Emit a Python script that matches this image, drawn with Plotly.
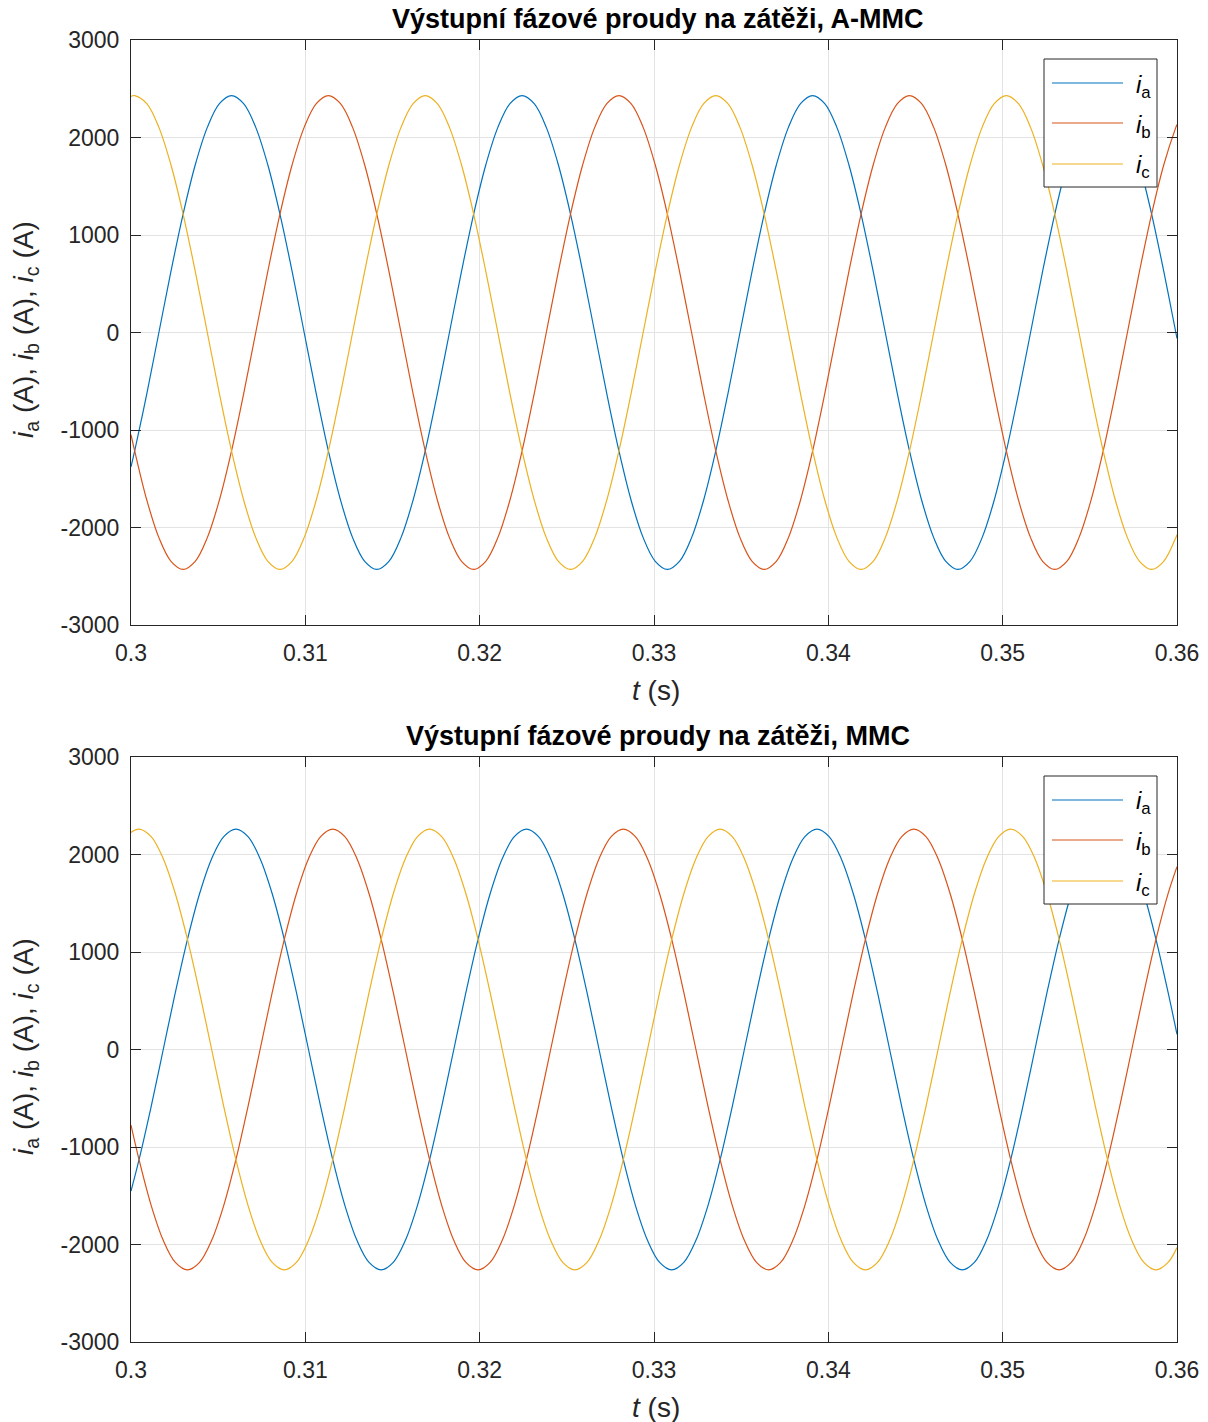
import plotly.graph_objects as go

# ---------------- data ----------------
# Top plot: A-MMC
t_top = [0.300000,
    0.300211, 0.300906,
    0.301600, 0.302294, 0.302989, 0.303683, 0.304378, 0.305072, 0.305767, 0.306461,
    0.307156, 0.307850, 0.308544, 0.309239, 0.309933, 0.310628, 0.311322, 0.312017,
    0.312711, 0.313406, 0.314100, 0.314794, 0.315489, 0.316183, 0.316878, 0.317572,
    0.318267, 0.318961, 0.319656, 0.320350, 0.321044, 0.321739, 0.322433, 0.323128,
    0.323822, 0.324517, 0.325211, 0.325906, 0.326600, 0.327294, 0.327989, 0.328683,
    0.329378, 0.330072, 0.330767, 0.331461, 0.332156, 0.332850, 0.333544, 0.334239,
    0.334933, 0.335628, 0.336322, 0.337017, 0.337711, 0.338406, 0.339100, 0.339794,
    0.340489, 0.341183, 0.341878, 0.342572, 0.343267, 0.343961, 0.344656, 0.345350,
    0.346044, 0.346739, 0.347433, 0.348128, 0.348822, 0.349517, 0.350211, 0.350906,
    0.351600, 0.352294, 0.352989, 0.353683, 0.354378, 0.355072, 0.355767, 0.356461,
    0.357156, 0.357850, 0.358544, 0.359239, 0.359933,
    0.360000]

ia_top = [-1378,
    -1215, -629,
    0, 629, 1215, 1718, 2104, 2347, 2430, 2347, 2104, 1718, 1215, 629,
    0, -629, -1215, -1718, -2104, -2347, -2430, -2347, -2104, -1718, -1215, -629,
    0, 629, 1215, 1718, 2104, 2347, 2430, 2347, 2104, 1718, 1215, 629,
    0, -629, -1215, -1718, -2104, -2347, -2430, -2347, -2104, -1718, -1215, -629,
    0, 629, 1215, 1718, 2104, 2347, 2430, 2347, 2104, 1718, 1215, 629,
    0, -629, -1215, -1718, -2104, -2347, -2430, -2347, -2104, -1718, -1215, -629,
    0, 629, 1215, 1718, 2104, 2347, 2430, 2347, 2104, 1718, 1215, 629, 0,
    -61]

ib_top = [-1048,
    -1215, -1718,
    -2104, -2347, -2430, -2347, -2104, -1718, -1215, -629, 0, 629, 1215, 1718,
    2104, 2347, 2430, 2347, 2104, 1718, 1215, 629, 0, -629, -1215, -1718,
    -2104, -2347, -2430, -2347, -2104, -1718, -1215, -629, 0, 629, 1215, 1718,
    2104, 2347, 2430, 2347, 2104, 1718, 1215, 629, 0, -629, -1215, -1718,
    -2104, -2347, -2430, -2347, -2104, -1718, -1215, -629, 0, 629, 1215, 1718,
    2104, 2347, 2430, 2347, 2104, 1718, 1215, 629, 0, -629, -1215, -1718,
    -2104, -2347, -2430, -2347, -2104, -1718, -1215, -629, 0, 629, 1215, 1718, 2104,
    2134]

ic_top = [2422,
    2430, 2347,
    2104, 1718, 1215, 629, 0, -629, -1215, -1718, -2104, -2347, -2430, -2347,
    -2104, -1718, -1215, -629, 0, 629, 1215, 1718, 2104, 2347, 2430, 2347,
    2104, 1718, 1215, 629, 0, -629, -1215, -1718, -2104, -2347, -2430, -2347,
    -2104, -1718, -1215, -629, 0, 629, 1215, 1718, 2104, 2347, 2430, 2347,
    2104, 1718, 1215, 629, 0, -629, -1215, -1718, -2104, -2347, -2430, -2347,
    -2104, -1718, -1215, -629, 0, 629, 1215, 1718, 2104, 2347, 2430, 2347,
    2104, 1718, 1215, 629, 0, -629, -1215, -1718, -2104, -2347, -2430, -2347, -2104,
    -2073]

# Bottom plot: MMC
t_bot = [0.300000,
    0.300461, 0.301156,
    0.301850, 0.302544, 0.303239, 0.303933, 0.304628, 0.305322, 0.306017, 0.306711,
    0.307406, 0.308100, 0.308794, 0.309489, 0.310183, 0.310878, 0.311572, 0.312267,
    0.312961, 0.313656, 0.314350, 0.315044, 0.315739, 0.316433, 0.317128, 0.317822,
    0.318517, 0.319211, 0.319906, 0.320600, 0.321294, 0.321989, 0.322683, 0.323378,
    0.324072, 0.324767, 0.325461, 0.326156, 0.326850, 0.327544, 0.328239, 0.328933,
    0.329628, 0.330322, 0.331017, 0.331711, 0.332406, 0.333100, 0.333794, 0.334489,
    0.335183, 0.335878, 0.336572, 0.337267, 0.337961, 0.338656, 0.339350, 0.340044,
    0.340739, 0.341433, 0.342128, 0.342822, 0.343517, 0.344211, 0.344906, 0.345600,
    0.346294, 0.346989, 0.347683, 0.348378, 0.349072, 0.349767, 0.350461, 0.351156,
    0.351850, 0.352544, 0.353239, 0.353933, 0.354628, 0.355322, 0.356017, 0.356711,
    0.357406, 0.358100, 0.358794, 0.359489,
    0.360000]

ia_bot = [-1452,
    -1130, -585,
    0, 585, 1130, 1598, 1957, 2183, 2260, 2183, 1957, 1598, 1130, 585,
    0, -585, -1130, -1598, -1957, -2183, -2260, -2183, -1957, -1598, -1130, -585,
    0, 585, 1130, 1598, 1957, 2183, 2260, 2183, 1957, 1598, 1130, 585,
    0, -585, -1130, -1598, -1957, -2183, -2260, -2183, -1957, -1598, -1130, -585,
    0, 585, 1130, 1598, 1957, 2183, 2260, 2183, 1957, 1598, 1130, 585,
    0, -585, -1130, -1598, -1957, -2183, -2260, -2183, -1957, -1598, -1130, -585,
    0, 585, 1130, 1598, 1957, 2183, 2260, 2183, 1957, 1598, 1130, 585,
    156]

ib_bot = [-775,
    -1130, -1598,
    -1957, -2183, -2260, -2183, -1957, -1598, -1130, -585, 0, 585, 1130, 1598,
    1957, 2183, 2260, 2183, 1957, 1598, 1130, 585, 0, -585, -1130, -1598,
    -1957, -2183, -2260, -2183, -1957, -1598, -1130, -585, 0, 585, 1130, 1598,
    1957, 2183, 2260, 2183, 1957, 1598, 1130, 585, 0, -585, -1130, -1598,
    -1957, -2183, -2260, -2183, -1957, -1598, -1130, -585, 0, 585, 1130, 1598,
    1957, 2183, 2260, 2183, 1957, 1598, 1130, 585, 0, -585, -1130, -1598,
    -1957, -2183, -2260, -2183, -1957, -1598, -1130, -585, 0, 585, 1130, 1598,
    1874]

ic_bot = [2226,
    2260, 2183,
    1957, 1598, 1130, 585, 0, -585, -1130, -1598, -1957, -2183, -2260, -2183,
    -1957, -1598, -1130, -585, 0, 585, 1130, 1598, 1957, 2183, 2260, 2183,
    1957, 1598, 1130, 585, 0, -585, -1130, -1598, -1957, -2183, -2260, -2183,
    -1957, -1598, -1130, -585, 0, 585, 1130, 1598, 1957, 2183, 2260, 2183,
    1957, 1598, 1130, 585, 0, -585, -1130, -1598, -1957, -2183, -2260, -2183,
    -1957, -1598, -1130, -585, 0, 585, 1130, 1598, 1957, 2183, 2260, 2183,
    1957, 1598, 1130, 585, 0, -585, -1130, -1598, -1957, -2183, -2260, -2183,
    -2031]

x_ticks = [0.30, 0.31, 0.32, 0.33, 0.34, 0.35, 0.36]
x_ticklabels = ["0.3", "0.31", "0.32", "0.33", "0.34", "0.35", "0.36"]
y_ticks = [-3000, -2000, -1000, 0, 1000, 2000, 3000]
y_ticklabels = ["-3000", "-2000", "-1000", "0", "1000", "2000", "3000"]

titles = ["Výstupní fázové proudy na zátěži, A-MMC", "Výstupní fázové proudy na zátěži, MMC"]
series_names = ["<i>i</i><sub>a</sub>", "<i>i</i><sub>b</sub>", "<i>i</i><sub>c</sub>"]
colors = ["#0072BD", "#D95319", "#EDB120"]

# ---------------- layout helpers ----------------
W, H = 1208, 1422
FONT = "Liberation Sans, Arial, Helvetica, sans-serif"
AX = "#262626"

def px_x(p):
    return p / W

def px_y(p):
    return 1 - p / H

x_dom = [px_x(131), px_x(1177)]
y_doms = [[px_y(625), px_y(40)], [px_y(1342), px_y(757)]]
offsets = [0, 717]

fig = go.Figure()

data_sets = [
    (t_top, [ia_top, ib_top, ic_top]),
    (t_bot, [ia_bot, ib_bot, ic_bot]),
]

for i, (tt, ys) in enumerate(data_sets):
    xa = "x" if i == 0 else "x2"
    ya = "y" if i == 0 else "y2"
    for yv, c, nm in zip(ys, colors, series_names):
        fig.add_trace(go.Scatter(
            x=tt, y=yv, mode="lines", name=nm,
            line=dict(color=c, width=1.2, shape="spline", smoothing=1.0),
            xaxis=xa, yaxis=ya, showlegend=False, hoverinfo="skip"))

axis_common = dict(
    automargin=False,
    showline=True, linecolor=AX, linewidth=1, mirror="ticks",
    ticks="inside", ticklen=10, tickwidth=1, tickcolor=AX,
    showgrid=True, gridcolor="#e3e3e3", gridwidth=1, zeroline=False,
    tickfont=dict(family=FONT, size=23, color=AX),
)

layout = dict(
    template="none",
    width=W, height=H, autosize=False,
    margin=dict(l=0, r=0, t=0, b=0, pad=0, autoexpand=False),
    paper_bgcolor="white", plot_bgcolor="white",
    font=dict(family=FONT, color=AX),
    showlegend=False,
)
for i in range(2):
    sx = "" if i == 0 else "2"
    layout["xaxis" + sx] = dict(axis_common, domain=x_dom, range=[0.3, 0.36],
                               anchor="y" + sx, tickmode="array",
                               tickvals=x_ticks, ticktext=x_ticklabels,
                               ticklabelstandoff=7)
    layout["yaxis" + sx] = dict(axis_common, domain=y_doms[i], range=[-3000, 3000],
                               anchor="x" + sx, tickmode="array",
                               tickvals=y_ticks, ticktext=y_ticklabels,
                               ticklabelstandoff=6)
fig.update_layout(**layout)

annotations = []
shapes = []
for i in range(2):
    off = offsets[i]
    # title
    annotations.append(dict(
        x=px_x(658), y=px_y(19 + off), xref="paper", yref="paper",
        text="<b>" + titles[i] + "</b>", showarrow=False,
        xanchor="center", yanchor="middle",
        font=dict(family=FONT, size=27, color="black")))
    # x axis title
    annotations.append(dict(
        x=px_x(656), y=px_y(690 + off), xref="paper", yref="paper",
        text="<i>t</i> (s)", showarrow=False, xanchor="center", yanchor="middle",
        font=dict(family=FONT, size=28, color=AX)))
    # y axis title
    annotations.append(dict(
        x=px_x(25), y=px_y(330 + off), xref="paper", yref="paper",
        text="<i>i</i><sub>a</sub> (A), <i>i</i><sub>b</sub> (A), <i>i</i><sub>c</sub> (A)",
        showarrow=False, xanchor="center", yanchor="middle", textangle=-90,
        font=dict(family=FONT, size=28, color=AX)))
    # legend box
    shapes.append(dict(type="rect", xref="paper", yref="paper",
                       x0=px_x(1044), x1=px_x(1157), y0=px_y(187 + off), y1=px_y(59 + off),
                       line=dict(color=AX, width=1), fillcolor="white", layer="above"))
    for j, (c, nm) in enumerate(zip(colors, series_names)):
        ly = [83, 123, 164][j] + off
        shapes.append(dict(type="line", xref="paper", yref="paper",
                           x0=px_x(1052), x1=px_x(1123), y0=px_y(ly), y1=px_y(ly),
                           line=dict(color=c, width=1.2), layer="above"))
        annotations.append(dict(
            x=px_x(1134), y=px_y(ly + 3), xref="paper", yref="paper",
            text=nm, showarrow=False, xanchor="left", yanchor="middle",
            font=dict(family=FONT, size=24, color="black")))

fig.update_layout(annotations=annotations, shapes=shapes)
fig.write_html("out.html")
